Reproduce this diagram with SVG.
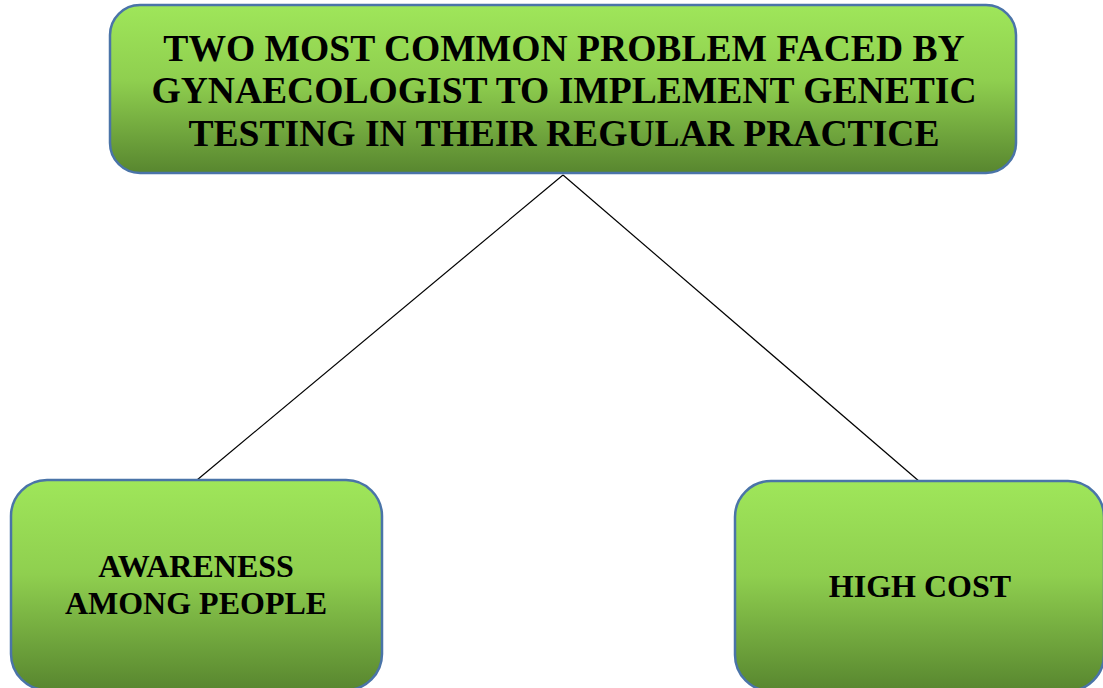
<svg xmlns="http://www.w3.org/2000/svg" width="1103" height="688" viewBox="0 0 1103 688">
  <defs>
    <linearGradient id="greenFill" x1="0" y1="0" x2="0" y2="1">
      <stop offset="0" stop-color="#9fe65a"/>
      <stop offset="0.45" stop-color="#8fcf4f"/>
      <stop offset="1" stop-color="#58862f"/>
    </linearGradient>
  </defs>
  <style>
    .box { fill: url(#greenFill); stroke: #4a74a8; stroke-width: 2.5; }
    .label { font-family: "Liberation Serif", "Times New Roman", serif; font-weight: bold; fill: #000; text-anchor: middle; }
    .title { font-size: 37.6px; }
    .sub { font-size: 32px; }
    .link { stroke: #000; stroke-width: 1.2; fill: none; }
  </style>
  <rect width="1103" height="688" fill="#ffffff"/>

  <g id="connectors">
    <line class="link" x1="563" y1="175" x2="197" y2="480"/>
    <line class="link" x1="563" y1="175" x2="920" y2="482"/>
  </g>

  <g id="node-main">
    <rect class="box" x="110" y="5" width="906" height="168" rx="30" ry="30"/>
    <text class="label title" x="564" y="61">TWO MOST COMMON PROBLEM FACED BY</text>
    <text class="label title" x="564" y="103">GYNAECOLOGIST TO IMPLEMENT GENETIC</text>
    <text class="label title" x="564" y="146">TESTING IN THEIR REGULAR PRACTICE</text>
  </g>

  <g id="node-awareness">
    <rect class="box" x="11" y="480" width="371" height="210" rx="36" ry="36"/>
    <text class="label sub" x="196" y="577">AWARENESS</text>
    <text class="label sub" x="196" y="614">AMONG PEOPLE</text>
  </g>

  <g id="node-cost">
    <rect class="box" x="735" y="481" width="369" height="210" rx="36" ry="36"/>
    <text class="label sub" x="920" y="597">HIGH COST</text>
  </g>
</svg>
